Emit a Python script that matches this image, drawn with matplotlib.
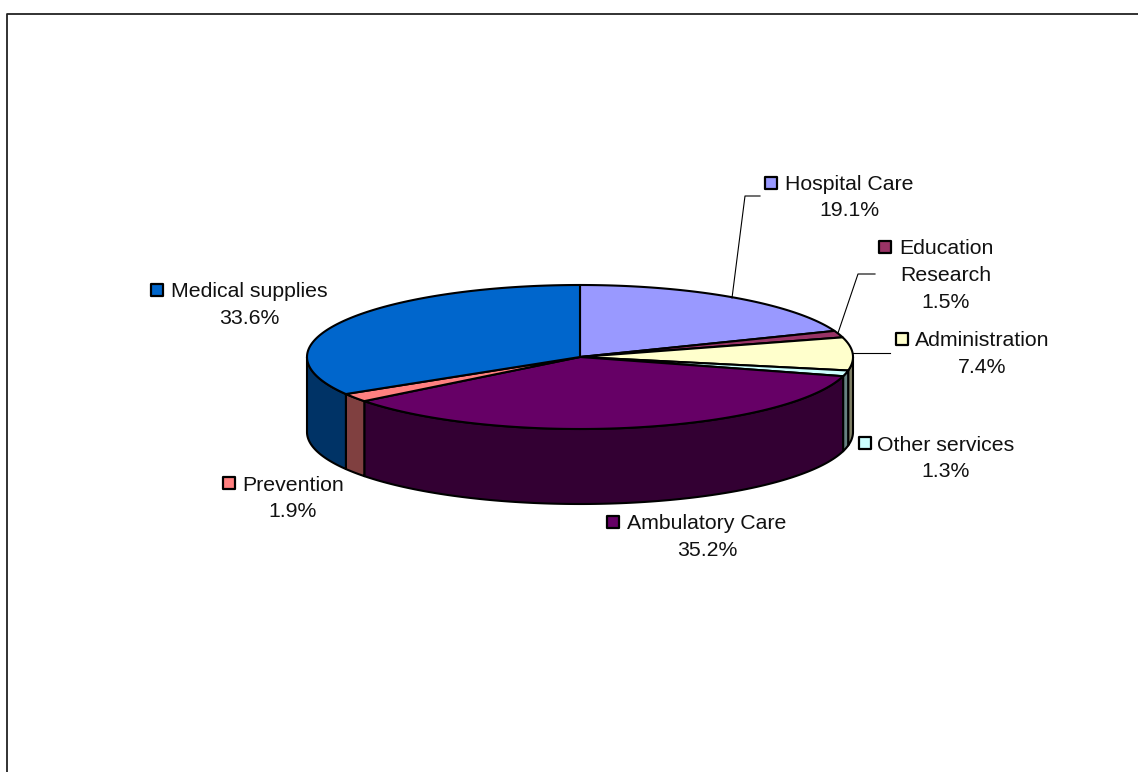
import numpy as np
import matplotlib
matplotlib.use("Agg")
import matplotlib.pyplot as plt
from matplotlib.colors import to_rgb

plt.rcParams["font.family"] = ["Liberation Sans", "DejaVu Sans"]

categories = ["Hospital Care", "Education\nResearch", "Administration", "Other services",
              "Ambulatory Care", "Prevention", "Medical supplies"]
shares = [19.1, 1.5, 7.4, 1.3, 35.2, 1.9, 33.6]
colors = ["#9999FF", "#993366", "#FFFFCC", "#CCFFFF", "#660066", "#FF8080", "#0066CC"]

# pie geometry in pixels of the reference
cx, cy = 580, 357
rx, ry = 273, 72
depth = 75


def edge(a):
    # a = degrees clockwise from the top of the pie
    a = np.radians(a)
    return cx + rx * np.sin(a), cy - ry * np.cos(a)


def darker(c, f=0.5):
    return tuple(v * f for v in to_rgb(c))


fig = plt.figure(figsize=(11.38, 7.72), dpi=100)
ax = fig.add_axes([0, 0, 1, 1])
ax.set_xlim(0, 1138)
ax.set_ylim(772, 0)
ax.axis("off")

# chart frame, only left and top show in the picture
ax.plot([7.5, 7.5, 1138], [772, 13.5, 13.5], color="#222222", lw=1.3, zorder=1)

bounds = np.cumsum([0] + shares) * 3.6

# side walls, only the front half (90..270) shows
for i, c in enumerate(colors):
    lo, hi = max(bounds[i], 90), min(bounds[i + 1], 270)
    if lo >= hi:
        continue
    t = np.linspace(lo, hi, 120)
    x, y = edge(t)
    ax.fill(np.r_[x, x[::-1]], np.r_[y, y[::-1] + depth], facecolor=darker(c),
            edgecolor="black", lw=1.5, joinstyle="round", zorder=2)

# top faces
for i, c in enumerate(colors):
    t = np.linspace(bounds[i], bounds[i + 1], 200)
    x, y = edge(t)
    ax.fill(np.r_[cx, x], np.r_[cy, y], facecolor=c, edgecolor="black", lw=1.5,
            joinstyle="round", zorder=3)

# label text centres and the legend key next to the first line
label_xy = [(849, 197.5), (946, 275.5), (982, 354), (946, 458.5), (707, 537), (293, 498.5), (249, 305)]
key_xy = [(771, 183), (885, 247), (902, 339), (865, 443), (613, 522), (229, 483), (157, 290)]

for name, share, (tx, ty), (kx, ky), c in zip(categories, shares, label_xy, key_xy, colors):
    ax.text(tx, ty, f"{name}\n{share:.1f}%", ha="center", va="center", fontsize=15.3,
            color="#111111", linespacing=1.5, zorder=5)
    ax.scatter([kx], [ky], marker="s", s=85, facecolor=c, edgecolor="black", linewidth=1.6, zorder=5)

# leader lines
ax.plot([732, 745, 760], [298, 196, 196], color="black", lw=0.8, zorder=4)
ax.plot([838, 858, 875], [333, 274, 274], color="black", lw=0.8, zorder=4)
ax.plot([853, 890], [353, 353], color="black", lw=0.8, zorder=4)

fig.savefig("out.png", dpi=100)
